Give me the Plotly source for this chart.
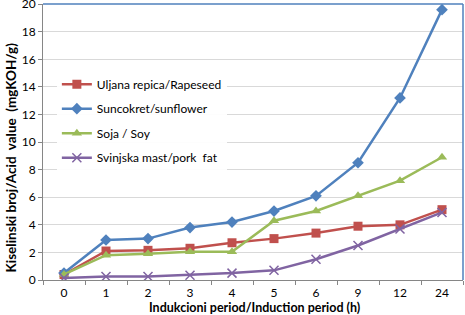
import plotly.graph_objects as go

periods = ["0", "1", "2", "3", "4", "5", "6", "9", "12", "24"]
rapeseed = [0.4, 2.1, 2.15, 2.3, 2.7, 3.0, 3.4, 3.9, 4.0, 5.1]
sunflower = [0.5, 2.9, 3.0, 3.8, 4.2, 5.0, 6.1, 8.5, 13.2, 19.6]
soy = [0.4, 1.8, 1.9, 2.05, 2.05, 4.3, 5.0, 6.1, 7.2, 8.9]
pork = [0.15, 0.25, 0.25, 0.35, 0.5, 0.7, 1.5, 2.5, 3.7, 4.9]

names = ["Uljana repica/Rapeseed", "Suncokret/sunflower", "Soja / Soy", "Svinjska mast/pork  fat"]
series = [rapeseed, sunflower, soy, pork]
colors = ["#C0504D", "#4F81BD", "#9BBB59", "#8064A2"]
symbols = ["square", "diamond", "triangle-up", "x-thin-open"]
sizes = [9, 9, 9, 9]

fig = go.Figure()
for i, (nm, vals, c, s, sz) in enumerate(zip(names, series, colors, symbols, sizes)):
    marker = dict(symbol=s, size=sz, color=c)
    if s == "x-thin-open":
        marker["line"] = dict(color=c, width=1.5)
    fig.add_trace(go.Scatter(
        x=periods, y=vals, name=nm, mode="lines+markers",
        line=dict(color=c, width=2.5), marker=marker,
        legendgroup=f"g{i}",
    ))

fig.update_layout(
    width=465, height=315,
    margin=dict(l=43, r=2, t=4, b=35, autoexpand=False),
    paper_bgcolor="white", plot_bgcolor="white",
    font=dict(family="Lato, Open Sans, sans-serif", size=11, color="#000000"),
    showlegend=True,
    legend=dict(x=0.033, y=0.762, xanchor="left", yanchor="top",
                bgcolor="rgba(255,255,255,0.95)", font=dict(size=12),
                tracegroupgap=5.5, itemwidth=30),
    xaxis=dict(type="category", showgrid=False, showline=True, linecolor="#868686",
               linewidth=1, ticks="outside", ticklen=4, tickcolor="#868686",
               tickson="boundaries", range=[-0.5, 9.5], tickfont=dict(size=12),
               zeroline=False, ticklabeloverflow="allow", ticklabelstandoff=2),
    yaxis=dict(range=[0, 20.01], tickvals=[0, 2, 4, 6, 8, 10, 12, 14, 16, 18, 20],
               showgrid=True, gridcolor="#D9D9D9",
               showline=True, linecolor="#868686", linewidth=1, ticks="outside",
               ticklen=4, tickcolor="#868686", tickfont=dict(size=12),
               zeroline=False, ticklabeloverflow="allow"),
    annotations=[
        dict(text="<b>Indukcioni period/Induction period (h)</b>", xref="paper", yref="paper",
             x=0.503, y=-0.1, yanchor="middle", showarrow=False, font=dict(size=12.5)),
        dict(text="<b>Kiselinski broj/Acid  value  (mgKOH/g)</b>", xref="paper", yref="paper",
             x=-0.075, y=0.442, xanchor="center", yanchor="middle", textangle=-90,
             showarrow=False, font=dict(size=13.5)),
    ],
    shapes=[
        dict(type="line", xref="paper", yref="paper", x0=0, x1=1, y0=1, y1=1,
             line=dict(color="#4F81BD", width=1.5)),
        dict(type="line", xref="paper", yref="paper", x0=1, x1=1, y0=0, y1=1,
             line=dict(color="#4F81BD", width=1.5)),
    ],
)

fig.write_html("out.html", config={"displayModeBar": False},
               post_script="document.body.style.margin='0';document.body.style.overflow='hidden';")
